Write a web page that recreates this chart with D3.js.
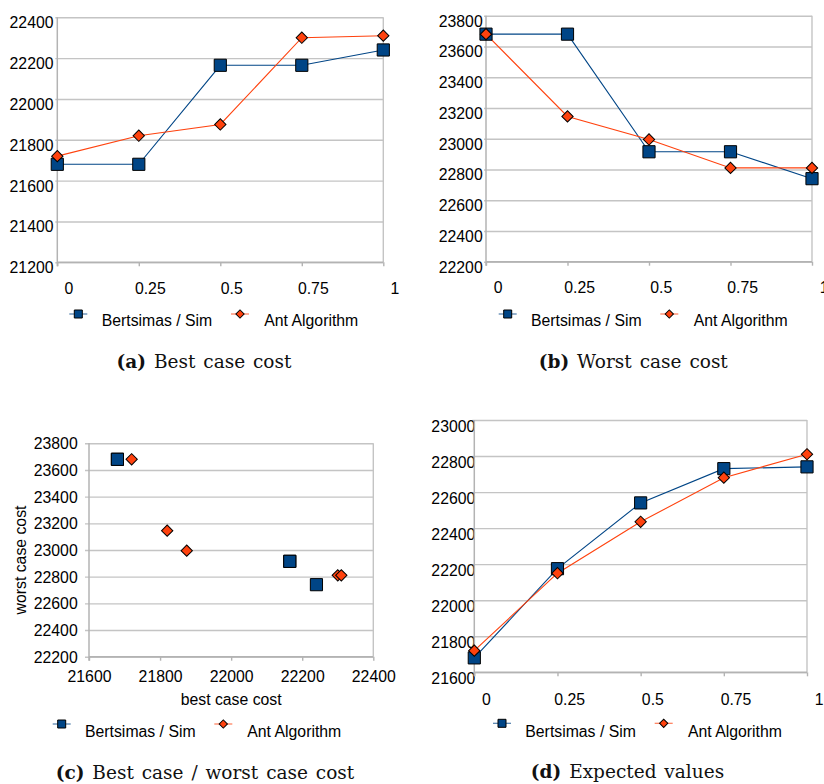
<!DOCTYPE html>
<html>
<head>
<meta charset="utf-8">
<script src="https://cdn.jsdelivr.net/npm/d3@7/dist/d3.min.js"></script>
<style>
body { margin: 0; background: #fff; }
svg { display: block; }
.tick text, .axis-label, .legend text { font-family: "Liberation Sans", Arial, sans-serif; font-size: 15.8px; fill: #000; }
.caption { font-family: "DejaVu Serif", "Liberation Serif", serif; font-size: 18.5px; word-spacing: 2px; fill: #111; }
</style>
</head>
<body>
<svg width="824" height="784"></svg>
<script>
const lambdas = ['0', '0.25', '0.5', '0.75', '1'];

const bestBertsimas = [21680, 21680, 22165, 22165, 22240];
const bestAnt = [21720, 21820, 21875, 22300, 22310];

const worstBertsimas = [23680, 23680, 22915, 22915, 22740];
const worstAnt = [23680, 23145, 22995, 22810, 22810];

const expBertsimas = [21680, 22175, 22540, 22730, 22740];
const expAnt = [21720, 22150, 22435, 22680, 22810];

const seriesNames = ['Bertsimas / Sim', 'Ant Algorithm'];
const colors = ['#004586', '#ff420e'];

const svg = d3.select('svg');

const sq = d3.symbol().type(d3.symbolSquare);

// marker: i=0 square, i=1 diamond (square turned 45deg)
const marker = (sel, i, big) => {
    const size = i === 0 ? (big ? 148 : 64) : (big ? 64 : 34);
    sel.attr('d', sq.size(size)())
        .attr('fill', colors[i])
        .attr('stroke', '#000')
        .attr('stroke-width', 1);
};

const styleAxis = (axG) => {
    axG.select('.domain').remove();
    axG.selectAll('.tick line').attr('stroke', '#c4c4c4').attr('stroke-width', 1.4);
};

const drawFrame = (g, w, h) => {
    g.append('line').attr('x1', w).attr('x2', w).attr('y1', 0).attr('y2', h)
        .attr('stroke', '#c4c4c4').attr('stroke-width', 1.4);
    g.append('line').attr('x1', 0).attr('x2', 0).attr('y1', 0).attr('y2', h + 4)
        .attr('stroke', '#b3b3b3').attr('stroke-width', 1.5);
    g.append('line').attr('x1', 0).attr('x2', w).attr('y1', h).attr('y2', h)
        .attr('stroke', '#b3b3b3').attr('stroke-width', 1.5);
};

const legend = (p) => {
    const lg = svg.append('g').attr('class', 'legend');
    seriesNames.forEach((name, i) => {
        const mx = p.leg[i * 2];
        lg.append('line')
            .attr('x1', mx - 9).attr('x2', mx + 9)
            .attr('y1', p.legY).attr('y2', p.legY)
            .attr('stroke', colors[i]).attr('stroke-opacity', 0.7).attr('stroke-width', 1.2);
        lg.append('path')
            .attr('transform', `translate(${mx},${p.legY}) rotate(${i === 0 ? 0 : 45})`)
            .call(marker, i, false);
        lg.append('text')
            .attr('x', p.leg[i * 2 + 1])
            .attr('y', p.legTextY)
            .attr('dominant-baseline', 'central')
            .text(name);
    });
};

const caption = (p) => {
    const t = svg.append('text')
        .attr('class', 'caption')
        .attr('x', p.cap[0])
        .attr('y', p.cap[1])
        .attr('text-anchor', 'middle');
    t.append('tspan').attr('font-weight', 'bold').text(p.tag);
    t.append('tspan').text(' ' + p.title);
};

const linePanel = (p) => {
    const w = p.x1 - p.x0;
    const h = p.y1 - p.y0;
    const g = svg.append('g').attr('transform', `translate(${p.x0},${p.y0})`);

    const x = d3.scalePoint().domain(lambdas).range([0, w]);
    const y = d3.scaleLinear().domain(p.dom).range([h, 0]);

    const yAx = g.append('g')
        .call(d3.axisLeft(y).ticks(p.nTicks).tickFormat(d3.format('d')).tickSize(-w).tickPadding(0));
    styleAxis(yAx);
    yAx.selectAll('.tick line').attr('x1', -2);
    yAx.selectAll('.tick text')
        .attr('x', p.yLabEnd - p.x0)
        .attr('dy', null)
        .attr('transform', `translate(0,${p.yDy})`)
        .attr('dominant-baseline', 'central');

    const xAx = g.append('g')
        .attr('transform', `translate(0,${h})`)
        .call(d3.axisBottom(x).tickSize(4).tickPadding(0));
    styleAxis(xAx);
    xAx.selectAll('.tick line').attr('stroke', '#b3b3b3');
    xAx.selectAll('.tick text')
        .attr('x', p.xDx)
        .attr('y', p.xLabY - p.y1)
        .attr('dy', null)
        .attr('dominant-baseline', 'central');

    drawFrame(g, w, h);

    const line = d3.line().x((d, i) => x(lambdas[i])).y(d => y(d));
    p.series.forEach((s, i) => {
        g.append('path').datum(s)
            .attr('d', line)
            .attr('fill', 'none')
            .attr('stroke', colors[i])
            .attr('stroke-width', 1.1);
    });
    p.series.forEach((s, i) => {
        g.selectAll(null).data(s).enter().append('path')
            .attr('transform', (d, j) => `translate(${x(lambdas[j])},${y(d)}) rotate(${i === 0 ? 0 : 45})`)
            .call(marker, i, true);
    });

    legend(p);
    caption(p);
};

const scatterPanel = (p) => {
    const w = p.x1 - p.x0;
    const h = p.y1 - p.y0;
    const g = svg.append('g').attr('transform', `translate(${p.x0},${p.y0})`);

    const x = d3.scaleLinear().domain(p.xdom).range([0, w]);
    const y = d3.scaleLinear().domain(p.ydom).range([h, 0]);

    const yAx = g.append('g')
        .call(d3.axisLeft(y).ticks(8).tickFormat(d3.format('d')).tickSize(-w).tickPadding(0));
    styleAxis(yAx);
    yAx.selectAll('.tick line').attr('x1', -4);
    yAx.selectAll('.tick text')
        .attr('x', p.yLabEnd - p.x0)
        .attr('dy', null)
        .attr('dominant-baseline', 'central');

    const xAx = g.append('g')
        .attr('transform', `translate(0,${h})`)
        .call(d3.axisBottom(x).ticks(4).tickFormat(d3.format('d')).tickSize(4).tickPadding(0));
    styleAxis(xAx);
    xAx.selectAll('.tick line').attr('stroke', '#b3b3b3');
    xAx.selectAll('.tick text')
        .attr('y', p.xLabY - p.y1)
        .attr('dy', null)
        .attr('dominant-baseline', 'central');

    drawFrame(g, w, h);

    g.append('text').attr('class', 'axis-label')
        .attr('x', w / 2).attr('y', p.xTitleY - p.y0)
        .attr('text-anchor', 'middle').attr('dominant-baseline', 'central')
        .text('best case cost');
    g.append('text').attr('class', 'axis-label')
        .attr('transform', `translate(${p.yTitleX - p.x0},${p.yTitleY - p.y0}) rotate(-90)`)
        .attr('text-anchor', 'middle').attr('dominant-baseline', 'central')
        .text('worst case cost');

    p.series.forEach((s, i) => {
        g.selectAll(null).data(s.xs).enter().append('path')
            .attr('transform', (d, j) => `translate(${x(d)},${y(s.ys[j])}) rotate(${i === 0 ? 0 : 45})`)
            .call(marker, i, true);
    });

    legend(p);
    caption(p);
};

linePanel({
    x0: 57.3, x1: 383.3, y0: 17.3, y1: 262.3, dom: [21200, 22400], nTicks: 6,
    yLabEnd: 53.5, yDy: 5, xDx: 11, xLabY: 288.3,
    series: [bestBertsimas, bestAnt],
    legY: 314, legTextY: 320.5, leg: [78.3, 101.7, 240, 264.3],
    cap: [204, 367.5], tag: '(a)', title: 'Best case cost'
});

linePanel({
    x0: 486, x1: 812, y0: 15.7, y1: 261.7, dom: [22200, 23800], nTicks: 8,
    yLabEnd: 482.7, yDy: 5, xDx: 11.7, xLabY: 287.3,
    series: [worstBertsimas, worstAnt],
    legY: 314, legTextY: 320.5, leg: [507.7, 531, 669.3, 693.7],
    cap: [633.3, 367.5], tag: '(b)', title: 'Worst case cost'
});

scatterPanel({
    x0: 89, x1: 373.3, y0: 443.3, y1: 656.7, xdom: [21600, 22400], ydom: [22200, 23800],
    yLabEnd: 77.7, xLabY: 676.7, xTitleY: 700, yTitleX: 20.7, yTitleY: 560,
    series: [
        { xs: bestBertsimas, ys: worstBertsimas },
        { xs: bestAnt, ys: worstAnt }
    ],
    legY: 724, legTextY: 731, leg: [61.7, 85, 223.3, 247.3],
    cap: [205, 778.5], tag: '(c)', title: 'Best case / worst case cost'
});

linePanel({
    x0: 474.3, x1: 807, y0: 420, y1: 672.3, dom: [21600, 23000], nTicks: 7,
    yLabEnd: 475.3, yDy: 6, xDx: 11.7, xLabY: 699.3,
    series: [expBertsimas, expAnt],
    legY: 723.3, legTextY: 731, leg: [502, 525.3, 663.7, 688],
    cap: [627.5, 777.5], tag: '(d)', title: 'Expected values'
});
</script>
</body>
</html>
